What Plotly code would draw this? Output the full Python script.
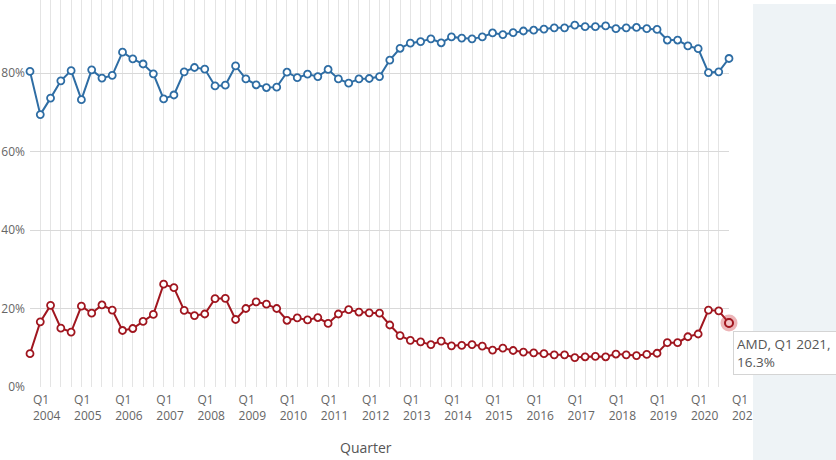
import plotly.graph_objects as go

years = list(range(2004, 2022))
quarters = [f"Q{q} {y}" for y in years for q in (1, 2, 3, 4)][:69]

intel = [80.4, 69.4, 73.6, 78.0, 80.6, 73.2, 80.8, 78.7, 79.4, 85.3, 83.6, 82.3,
         79.8, 73.4, 74.4, 80.3, 81.4, 81.0, 76.7, 76.9, 81.8, 78.5, 77.0, 76.3,
         76.4, 80.2, 78.8, 79.7, 79.1, 80.9, 78.5, 77.4, 78.5, 78.6, 79.1, 83.3,
         86.3, 87.6, 88.0, 88.7, 87.7, 89.2, 88.9, 88.7, 89.2, 90.2, 89.8, 90.3,
         90.7, 90.9, 91.2, 91.5, 91.5, 92.2, 91.8, 91.8, 92.0, 91.3, 91.5, 91.6,
         91.3, 91.1, 88.4, 88.4, 86.9, 86.2, 80.1, 80.3, 83.7]

amd = [8.5, 16.6, 20.8, 15.0, 14.0, 20.6, 18.8, 20.9, 19.6, 14.4, 14.9, 16.7,
       18.5, 26.2, 25.3, 19.5, 18.2, 18.6, 22.5, 22.6, 17.2, 20.0, 21.7, 21.1,
       20.0, 17.0, 17.6, 17.1, 17.7, 16.2, 18.6, 19.7, 19.1, 18.9, 18.8, 15.8,
       13.1, 11.9, 11.5, 10.8, 11.7, 10.5, 10.6, 10.8, 10.4, 9.4, 9.9, 9.3,
       8.9, 8.7, 8.5, 8.2, 8.2, 7.5, 7.7, 7.8, 7.7, 8.4, 8.2, 8.0,
       8.3, 8.6, 11.3, 11.3, 12.8, 13.5, 19.6, 19.4, 16.3]

tick_years = [str(y) for y in years]

x = list(range(len(quarters)))
BLUE = "#2e6da4"
RED = "#a0161f"
FONT = "Open Sans"

fig = go.Figure()
fig.add_trace(go.Scatter(
    x=x, y=intel, name="Intel", mode="lines+markers", text=quarters,
    line=dict(color=BLUE, width=2),
    marker=dict(symbol="circle", size=7, color="white", line=dict(color=BLUE, width=1.8)),
    cliponaxis=False,
))
fig.add_trace(go.Scatter(
    x=x, y=amd, name="AMD", mode="lines+markers", text=quarters,
    line=dict(color=RED, width=2),
    marker=dict(symbol="circle", size=7, color="white", line=dict(color=RED, width=1.8)),
    cliponaxis=False,
))
# highlighted (hovered) last AMD point
fig.add_trace(go.Scatter(
    x=[x[-1]], y=[amd[-1]], mode="markers", showlegend=False, hoverinfo="skip",
    marker=dict(size=17, color="rgba(200,40,50,0.35)", line=dict(width=0)),
    cliponaxis=False,
))
fig.add_trace(go.Scatter(
    x=[x[-1]], y=[amd[-1]], mode="markers", showlegend=False, hoverinfo="skip",
    marker=dict(size=8, color="#f4c6c8", line=dict(color=RED, width=2)),
    cliponaxis=False,
))

fig.update_layout(
    width=836, height=460,
    margin=dict(l=30, r=107, t=0, b=73),
    paper_bgcolor="white", plot_bgcolor="white",
    showlegend=False,
    font=dict(family=FONT, color="#666666", size=12),
    xaxis=dict(
        range=[0, len(x) - 1],
        automargin=False,
        tickmode="array",
        tickvals=x[::4],
        ticktext=[f"Q1<br>{y}" for y in tick_years],
        ticklabelposition="outside right",
        ticklabelshift=3, ticklabelstandoff=4,
        showgrid=True, gridcolor="#e4e4e4", gridwidth=1,
        minor=dict(dtick=1, tick0=0, showgrid=True, gridcolor="#e4e4e4", gridwidth=1),
        zeroline=False, showline=False, ticks="",
        tickfont=dict(size=12, color="#666666"),
    ),
    yaxis=dict(
        range=[0, 98.6],
        automargin=False,
        tickmode="array",
        tickvals=[0, 20, 40, 60, 80],
        ticktext=["0%", "20%", "40%", "60%", "80%"],
        ticklabelstandoff=4,
        showgrid=True, gridcolor="#d9d9d9", gridwidth=1,
        zeroline=False, showline=False, ticks="",
        tickfont=dict(size=12, color="#666666"),
    ),
    shapes=[dict(
        type="rect", xref="paper", yref="paper",
        x0=(753 - 30) / 699, x1=1.3, y0=-0.3, y1=(387 - 4) / 387,
        fillcolor="#eef3f6", line=dict(width=0), layer="above",
    )],
    annotations=[
        dict(
            xref="paper", yref="paper", x=(733 - 30) / 699, y=(387 - 331) / 387,
            xanchor="left", yanchor="top", align="left",
            text=f"AMD, {quarters[-1]},<br>{amd[-1]}%",
            showarrow=False, bgcolor="white", bordercolor="#d4d4d4",
            borderwidth=1, borderpad=3, width=112,
            font=dict(family=FONT, size=13.5, color="#555555"),
        ),
        dict(
            xref="paper", yref="paper", x=(366 - 30) / 699, y=(387 - 448) / 387,
            xanchor="center", yanchor="middle", text="Quarter", showarrow=False,
            font=dict(family=FONT, size=14, color="#555555"),
        ),
    ],
)

fig.write_html("out.html", config={"displayModeBar": False},
               post_script="document.body.style.margin='0';")
